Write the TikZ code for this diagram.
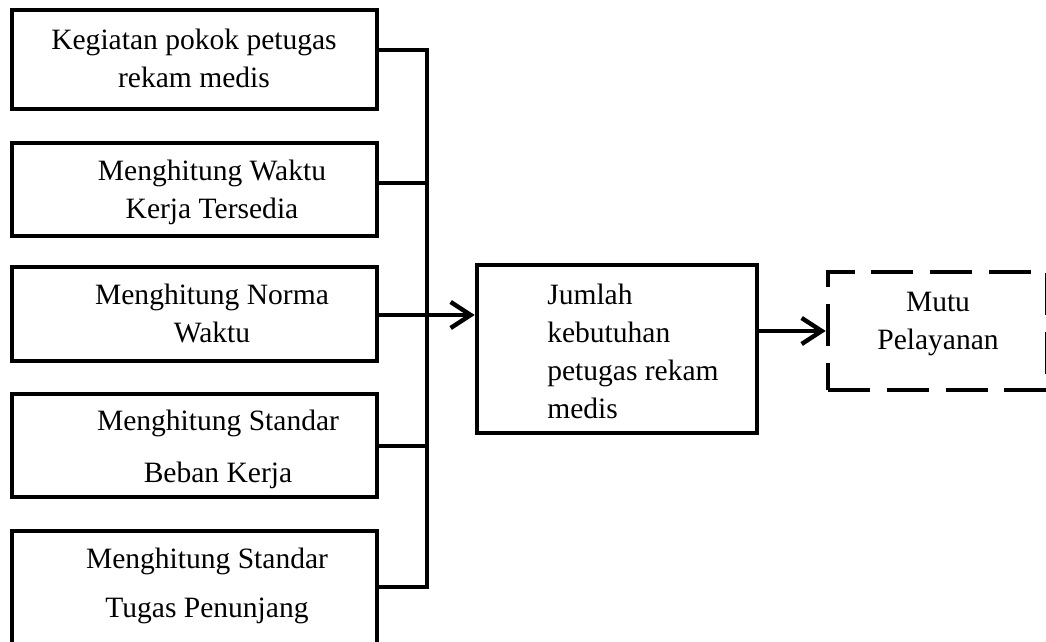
\documentclass[tikz,border=0pt]{standalone}
\usepackage{fontspec}
\setmainfont{Liberation Serif}
\usetikzlibrary{arrows.meta,fit}
\begin{document}
\begin{tikzpicture}[x=0.025cm, y=-0.025cm,
  box/.style={draw, line width=0.115cm, inner sep=0pt},
  dbox/.style={box, dash pattern=on 1.05cm off 0.42cm},
  txt/.style={inner sep=0pt, align=center, font=\fontsize{21}{27}\selectfont},
  link/.style={line width=0.11cm},
  arr/.style={link, -{Straight Barb[length=0.5cm, width=0.65cm]}}]
\useasboundingbox (0,0) rectangle (1046,642);

\node[box, fit={(12,10) (377,109)}] (A) {};
\node[box, fit={(12,143) (377,236)}] (B) {};
\node[box, fit={(12,267) (377,361)}] (C) {};
\node[box, fit={(12,394) (377,497)}] (D) {};
\node[box, fit={(12,531) (377,660)}] (E) {};
\node[box, fit={(477,265) (757,433)}] (M) {};
\node[dbox, fit={(828,272) (1047,390)}] (R) {};

\node[txt] (At) at (194,58) {Kegiatan pokok petugas\\rekam medis};
\node[txt] (Bt) at (212,192) {Menghitung Waktu\\Kerja Tersedia};
\node[txt] (Ct) at (212,313.5) {Menghitung Norma\\Waktu};
\node[txt, font=\fontsize{21}{37}\selectfont] (Dt) at (218,449.5) {Menghitung Standar\\Beban Kerja};
\node[txt, font=\fontsize{21}{34.5}\selectfont] (Et) at (207,586) {Menghitung Standar\\Tugas Penunjang};
\node[txt, align=left, anchor=west] (Mt) at (547,351.5) {Jumlah\\kebutuhan\\petugas rekam\\medis};
\node[txt] (Rt) at (938,324) {Mutu\\Pelayanan};

\coordinate (busA) at (427,50);
\coordinate (busB) at (427,183);
\coordinate (busC) at (427,315);
\coordinate (busD) at (427,446);
\coordinate (busE) at (427,587);

\draw[link] (A.east |- busA) -- (busA) -- (busE) -- (E.east |- busE);
\draw[link] (B.east |- busB) -- (busB);
\draw[link] (C.east |- busC) -- (busC);
\draw[link] (D.east |- busD) -- (busD);
\draw[arr] (busC) -- (M.west |- busC);
\draw[arr] (M.east |- R.west) -- (R.west);
\end{tikzpicture}
\end{document}
